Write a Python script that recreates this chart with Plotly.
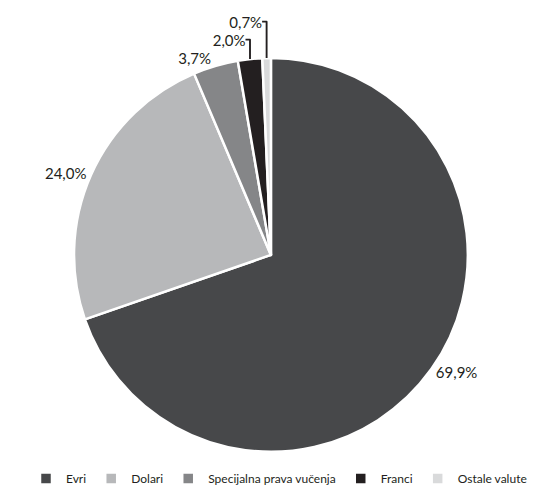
import plotly.graph_objects as go

labels = ["Evri", "Dolari", "Specijalna prava vučenja", "Franci", "Ostale valute"]
values = [69.9, 24.0, 3.7, 2.0, 0.7]
colors = ["#47484a", "#b7b8ba", "#858688", "#231f20", "#d9dadb"]

fig = go.Figure(go.Pie(
    labels=labels,
    values=values,
    sort=False,
    direction="clockwise",
    rotation=0,
    marker=dict(colors=colors, line=dict(color="white", width=2.5)),
    textposition="outside",
    texttemplate="%{value:.1f}%",
    textfont=dict(size=15, color="#231f20"),
    hoverinfo="label+value",
    domain=dict(x=[0.09, 0.88], y=[0.03, 1.0]),
))

fig.update_layout(
    width=540,
    height=486,
    separators=",.",
    font=dict(family="Lato, sans-serif", size=14, color="#231f20"),
    paper_bgcolor="white",
    margin=dict(l=0, r=0, t=0, b=30),
    legend=dict(
        orientation="h",
        x=0.5, xanchor="center",
        y=0, yanchor="top",
        font=dict(family="Lato, sans-serif", size=12),
        itemwidth=30,
        tracegroupgap=0,
    ),
)

fig.write_html("out.html")
